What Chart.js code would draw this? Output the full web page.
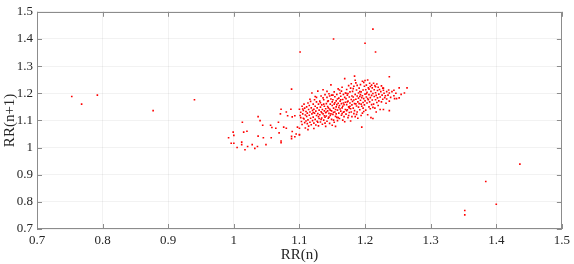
<!DOCTYPE html>
<html><head><meta charset="utf-8">
<script src="https://cdn.jsdelivr.net/npm/chart.js@4/dist/chart.umd.min.js"></script>
<style>html,body{margin:0;padding:0;background:#fff;}canvas{display:block;}</style>
</head><body>
<canvas id="c" width="574" height="264"></canvas>
<script>
const xTicks = [0.7,0.8,0.9,1.0,1.1,1.2,1.3,1.4,1.5];
const yTicks = [0.7,0.8,0.9,1.0,1.1,1.2,1.3,1.4,1.5];
const xTitle = 'RR(n)';
const yTitle = 'RR(n+1)';

const leftOutliers = [[0.753,1.188],[0.768,1.160],[0.792,1.193],[0.877,1.136],[0.940,1.176]];
const lowerRightOutliers = [[1.352,0.768],[1.352,0.752],[1.384,0.875],[1.400,0.791],[1.436,0.939]];
const upperOutliers = [[1.212,1.436],[1.152,1.400],[1.200,1.384],[1.101,1.352],[1.216,1.352],[1.088,1.215],[1.237,1.261]];
const clusterLow = [[0.992,1.036],[0.996,1.016],[1.000,1.016],[1.000,1.045],[0.999,1.057],[1.005,1.000],[1.012,1.020],[1.012,1.011],[1.013,1.093],[1.015,1.057],[1.017,0.992],[1.020,1.060],[1.021,1.004],[1.028,1.011],[1.032,0.997],[1.036,1.004],[1.037,1.042],[1.037,1.114],[1.040,1.099],[1.044,1.082],[1.045,1.036],[1.049,1.011],[1.057,1.036],[1.056,1.082],[1.058,1.074],[1.064,1.071],[1.068,1.093],[1.069,1.054],[1.072,1.024],[1.072,1.018],[1.071,1.124],[1.072,1.141],[1.076,1.075],[1.080,1.131],[1.082,1.117],[1.080,1.071],[1.087,1.141],[1.089,1.113],[1.089,1.059],[1.088,1.041],[1.088,1.033],[1.093,1.040],[1.093,1.117],[1.095,1.050],[1.097,1.075],[1.100,1.046],[1.100,1.141],[1.100,1.071],[1.100,1.048]];
const cluster110 = [[1.101,1.118],[1.102,1.130],[1.103,1.096],[1.104,1.152],[1.104,1.085],[1.105,1.124],[1.106,1.137],[1.106,1.108],[1.107,1.105],[1.107,1.160],[1.108,1.092],[1.108,1.145],[1.109,1.120],[1.109,1.072],[1.110,1.133],[1.110,1.098],[1.102,1.110],[1.105,1.142],
 [1.111,1.115],[1.111,1.150],[1.112,1.088],[1.112,1.127],[1.113,1.164],[1.113,1.102],[1.114,1.140],[1.114,1.079],[1.115,1.119],[1.115,1.155],[1.116,1.093],[1.116,1.131],[1.117,1.170],[1.117,1.108],[1.118,1.146],[1.118,1.084],[1.119,1.124],[1.119,1.201],[1.120,1.137],[1.120,1.099],[1.116,1.178],[1.113,1.066]];
const cluster120 = [[1.121,1.112],[1.121,1.160],[1.122,1.090],[1.122,1.141],[1.123,1.127],[1.123,1.176],[1.124,1.104],[1.124,1.152],[1.125,1.083],[1.125,1.134],[1.126,1.168],[1.126,1.118],[1.127,1.097],[1.127,1.146],[1.128,1.208],[1.128,1.125],[1.129,1.160],[1.129,1.080],[1.130,1.138],[1.130,1.107],[1.124,1.188],[1.122,1.070],[1.126,1.185],[1.128,1.093],[1.121,1.129],[1.129,1.114],
 [1.131,1.121],[1.131,1.171],[1.132,1.094],[1.132,1.149],[1.133,1.132],[1.133,1.190],[1.134,1.109],[1.134,1.157],[1.135,1.086],[1.135,1.140],[1.136,1.213],[1.136,1.124],[1.137,1.176],[1.137,1.101],[1.138,1.152],[1.138,1.117],[1.139,1.195],[1.139,1.090],[1.140,1.143],[1.140,1.078],[1.132,1.165],[1.134,1.128],[1.136,1.183],[1.138,1.135],[1.133,1.104],[1.137,1.160],[1.139,1.112],[1.140,1.128]];
const cluster140 = [[1.141,1.116],[1.141,1.162],[1.142,1.097],[1.142,1.185],[1.143,1.135],[1.143,1.151],[1.144,1.108],[1.144,1.172],[1.145,1.126],[1.145,1.198],[1.146,1.089],[1.146,1.142],[1.147,1.160],[1.147,1.118],[1.148,1.231],[1.148,1.179],[1.149,1.104],[1.149,1.135],[1.150,1.155],[1.150,1.082],[1.142,1.207],[1.144,1.146],[1.146,1.190],[1.148,1.124],[1.150,1.168],[1.143,1.170],[1.145,1.112],[1.147,1.138],[1.149,1.193],[1.141,1.131],
 [1.151,1.122],[1.151,1.176],[1.152,1.101],[1.152,1.145],[1.153,1.160],[1.153,1.205],[1.154,1.131],[1.154,1.187],[1.155,1.078],[1.155,1.115],[1.156,1.150],[1.156,1.172],[1.157,1.111],[1.157,1.196],[1.158,1.138],[1.158,1.099],[1.159,1.163],[1.159,1.216],[1.160,1.127],[1.160,1.182],[1.152,1.130],[1.154,1.165],[1.156,1.124],[1.158,1.179],[1.160,1.148],[1.153,1.093],[1.155,1.140],[1.157,1.158],[1.159,1.110],[1.151,1.193]];
const cluster160 = [[1.161,1.155],[1.161,1.107],[1.162,1.171],[1.162,1.200],[1.163,1.134],[1.163,1.189],[1.164,1.119],[1.164,1.162],[1.165,1.146],[1.165,1.222],[1.166,1.101],[1.166,1.177],[1.167,1.130],[1.167,1.196],[1.168,1.158],[1.168,1.114],[1.169,1.254],[1.169,1.185],[1.170,1.140],[1.170,1.167],[1.162,1.142],[1.164,1.208],[1.166,1.152],[1.168,1.132],[1.170,1.201],[1.163,1.176],[1.165,1.125],[1.167,1.164],[1.169,1.095],[1.161,1.212],
 [1.171,1.123],[1.171,1.180],[1.172,1.158],[1.172,1.214],[1.173,1.139],[1.173,1.193],[1.174,1.110],[1.174,1.171],[1.175,1.150],[1.175,1.228],[1.176,1.129],[1.176,1.186],[1.177,1.164],[1.177,1.205],[1.178,1.143],[1.178,1.098],[1.179,1.177],[1.179,1.235],[1.180,1.114],[1.180,1.157],[1.172,1.136],[1.174,1.199],[1.176,1.146],[1.178,1.219],[1.180,1.190],[1.173,1.168],[1.175,1.118],[1.177,1.152],[1.179,1.131],[1.171,1.200]];
const cluster180 = [[1.181,1.170],[1.181,1.207],[1.182,1.145],[1.182,1.186],[1.183,1.125],[1.183,1.226],[1.184,1.263],[1.184,1.162],[1.185,1.196],[1.185,1.114],[1.186,1.178],[1.186,1.238],[1.187,1.153],[1.187,1.212],[1.188,1.131],[1.188,1.190],[1.189,1.168],[1.189,1.108],[1.190,1.201],[1.190,1.149],[1.182,1.217],[1.184,1.136],[1.186,1.161],[1.188,1.229],[1.190,1.182],[1.183,1.175],[1.185,1.248],[1.187,1.122],
 [1.191,1.162],[1.191,1.219],[1.192,1.188],[1.192,1.139],[1.193,1.232],[1.193,1.174],[1.194,1.205],[1.194,1.118],[1.195,1.075],[1.195,1.152],[1.196,1.244],[1.196,1.191],[1.197,1.166],[1.197,1.212],[1.198,1.133],[1.198,1.180],[1.199,1.226],[1.199,1.157],[1.200,1.247],[1.200,1.197],[1.192,1.206],[1.194,1.160],[1.196,1.127],[1.198,1.240],[1.200,1.172],[1.193,1.195],[1.195,1.184],[1.197,1.145]];
const cluster200 = [[1.201,1.213],[1.201,1.138],[1.202,1.186],[1.202,1.230],[1.203,1.164],[1.203,1.203],[1.204,1.249],[1.204,1.121],[1.205,1.176],[1.205,1.220],[1.206,1.150],[1.206,1.195],[1.207,1.237],[1.207,1.168],[1.208,1.225],[1.208,1.184],[1.209,1.110],[1.209,1.207],[1.210,1.158],[1.210,1.192],[1.202,1.198],[1.204,1.180],[1.206,1.215],[1.208,1.143],[1.210,1.230],
 [1.211,1.175],[1.211,1.220],[1.212,1.107],[1.212,1.199],[1.213,1.237],[1.213,1.160],[1.214,1.188],[1.214,1.213],[1.215,1.145],[1.215,1.228],[1.216,1.176],[1.216,1.202],[1.217,1.131],[1.217,1.192],[1.218,1.234],[1.218,1.166],[1.219,1.210],[1.219,1.183],[1.220,1.222],[1.220,1.155],[1.212,1.148],[1.216,1.224]];
const cluster220 = [[1.221,1.197],[1.221,1.172],[1.222,1.214],[1.223,1.186],[1.223,1.140],[1.224,1.206],[1.225,1.168],[1.225,1.227],[1.226,1.193],[1.227,1.219],[1.227,1.178],[1.228,1.211],[1.228,1.140],[1.229,1.200],[1.230,1.184],[1.228,1.219],
 [1.233,1.206],[1.233,1.179],[1.237,1.201],[1.237,1.171],[1.237,1.136],[1.241,1.206],[1.231,1.191],[1.235,1.193],[1.239,1.185],[1.232,1.163],[1.236,1.212],
 [1.244,1.211],[1.244,1.191],[1.245,1.180],[1.248,1.180],[1.252,1.183],[1.252,1.220],[1.260,1.201],[1.264,1.220],[1.247,1.200],[1.255,1.196]];

const allPoints = [].concat(leftOutliers, lowerRightOutliers, upperOutliers, clusterLow,
  cluster110, cluster120, cluster140, cluster160, cluster180, cluster200, cluster220)
  .map(p => ({x: p[0], y: p[1]}));

const AXIS = '#8c8c8c';
const FONT = "'Liberation Serif', 'Times New Roman', serif";

const boxPlugin = {
  id: 'box',
  afterDraw(chart) {
    const {ctx, chartArea: a, scales} = chart;
    ctx.save();
    ctx.strokeStyle = AXIS;
    ctx.lineWidth = 1;
    ctx.strokeRect(Math.round(a.left) + 0.5, Math.round(a.top) + 0.5,
      Math.round(a.right - a.left) - 1, Math.round(a.bottom - a.top) - 1);
    const L = 5;
    ctx.beginPath();
    xTicks.forEach(v => {
      const px = Math.round(scales.x.getPixelForValue(v)) + 0.5;
      ctx.moveTo(px, a.bottom); ctx.lineTo(px, a.bottom - L);
      ctx.moveTo(px, a.top); ctx.lineTo(px, a.top + L);
    });
    yTicks.forEach(v => {
      const py = Math.round(scales.y.getPixelForValue(v)) + 0.5;
      ctx.moveTo(a.left, py); ctx.lineTo(a.left + L, py);
      ctx.moveTo(a.right, py); ctx.lineTo(a.right - L, py);
    });
    ctx.stroke();
    ctx.restore();
  }
};

new Chart(document.getElementById('c'), {
  type: 'scatter',
  data: { datasets: [{
    data: allPoints,
    pointStyle: 'rect',
    pointRadius: 1.15,
    pointBackgroundColor: '#ff0000',
    pointBorderWidth: 0,
    pointHoverRadius: 1.15
  }]},
  options: {
    responsive: false,
    animation: false,
    events: [],
    layout: { padding: { top: 7, right: 10, left: 0, bottom: 0 } },
    plugins: { legend: { display: false }, tooltip: { enabled: false } },
    scales: {
      x: {
        type: 'linear', min: 0.7, max: 1.5,
        afterBuildTicks: s => { s.ticks = xTicks.map(v => ({value: v})); },
        afterFit: s => { s.height = 35; },
        grid: { color: 'rgba(0,0,0,0.05)', drawTicks: false },
        border: { display: false },
        ticks: { color: '#262626', font: { family: FONT, size: 13 }, padding: 4,
          maxRotation: 0, autoSkip: false, callback: v => String(+(+v).toFixed(1)) },
        title: { display: true, text: xTitle, color: '#262626',
          font: { family: FONT, size: 15, lineHeight: 1 }, padding: { top: 0, bottom: 1 } }
      },
      y: {
        type: 'linear', min: 0.7, max: 1.5,
        afterBuildTicks: s => { s.ticks = yTicks.map(v => ({value: v})); },
        afterFit: s => { s.width = 37; },
        grid: { color: 'rgba(0,0,0,0.05)', drawTicks: false },
        border: { display: false },
        ticks: { color: '#262626', font: { family: FONT, size: 13 }, padding: 4,
          autoSkip: false, callback: v => String(+(+v).toFixed(1)) },
        title: { display: true, text: yTitle, color: '#262626',
          font: { family: FONT, size: 15, lineHeight: 1 }, padding: { top: 3, bottom: 0 } }
      }
    }
  },
  plugins: [boxPlugin]
});
</script>
</body></html>
